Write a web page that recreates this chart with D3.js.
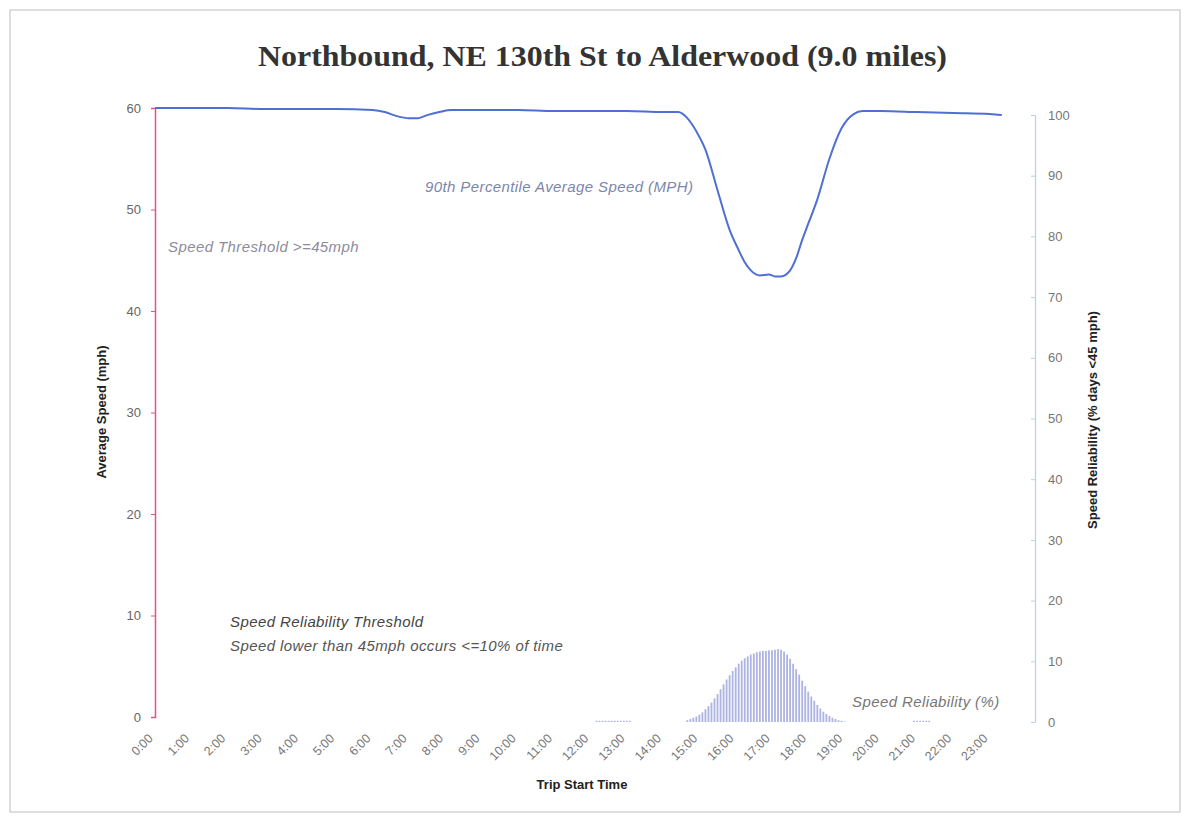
<!DOCTYPE html>
<html>
<head>
<meta charset="utf-8">
<script src="https://cdn.jsdelivr.net/npm/d3@7"></script>
<style>
  body { margin: 0; background: #fff; }
  text { font-family: Arial, "Liberation Sans", sans-serif; }
</style>
</head>
<body>
<div id="chart"></div>
<script>
// 90th percentile average speed (mph) by trip start time
var speedTimes = ["0:00","1:00","2:00","3:00","4:00","5:00","6:00","6:20","6:40","7:00","7:15","7:30","7:50","8:10",
  "9:00","10:00","11:00","12:00","13:00","14:00","14:25","14:40","14:55","15:10","15:30","15:50","16:05","16:15",
  "16:25","16:40","16:55","17:05","17:15","17:30","17:40","17:50","18:00","18:15","18:35","18:55","19:15","19:30",
  "20:00","21:00","22:00","23:00","23:20"];
var speedValues = [60.0,60.0,60.0,59.9,59.9,59.9,59.8,59.6,59.2,59.0,59.0,59.3,59.6,59.8,
  59.8,59.8,59.7,59.7,59.7,59.6,59.6,59.0,57.7,55.9,51.9,48.0,46.0,44.8,
  44.0,43.5,43.6,43.4,43.4,44.0,45.2,47.0,48.6,51.0,55.0,58.0,59.4,59.7,
  59.7,59.6,59.5,59.4,59.3];

// speed reliability (% of days below 45 mph), 5-minute bins
var relTimes = ["12:10","12:15","12:20","12:25","12:30","12:35","12:40","12:45","12:50","12:55","13:00","13:05",
  "14:40","14:45","14:50","14:55","15:00","15:05","15:10","15:15","15:20","15:25","15:30","15:35","15:40","15:45",
  "15:50","15:55","16:00","16:05","16:10","16:15","16:20","16:25","16:30","16:35","16:40","16:45","16:50","16:55",
  "17:00","17:05","17:10","17:15","17:20","17:25","17:30","17:35","17:40","17:45","17:50","17:55","18:00","18:05",
  "18:10","18:15","18:20","18:25","18:30","18:35","18:40","18:45","18:50","18:55","19:00",
  "20:55","21:00","21:05","21:10","21:15","21:20"];
var relValues = [0.2,0.2,0.2,0.2,0.2,0.2,0.2,0.2,0.2,0.2,0.2,0.2,
  0.3,0.5,0.7,0.9,1.2,1.6,2.1,2.6,3.2,3.9,4.6,5.4,6.2,7.0,
  7.7,8.4,9.0,9.6,10.1,10.5,10.8,11.1,11.3,11.5,11.6,11.7,11.7,11.8,
  11.8,11.9,12.0,11.9,11.6,11.1,10.4,9.6,8.7,7.8,6.8,5.9,5.0,4.2,
  3.5,2.8,2.2,1.7,1.3,1.0,0.7,0.5,0.3,0.2,0.1,
  0.2,0.2,0.2,0.2,0.2,0.2];

var hourLabels = d3.range(0, 24).map(h => h + ":00");
var leftTicks = [0, 10, 20, 30, 40, 50, 60];
var rightTicks = [0, 10, 20, 30, 40, 50, 60, 70, 80, 90, 100];

function toHours(s) {
  var p = s.split(":");
  return +p[0] + (+p[1]) / 60;
}

var svgWidth = 1191;
var svgHeight = 817;

var svg = d3.select("#chart")
  .append("svg")
  .attr("width", svgWidth)
  .attr("height", svgHeight);

// outer frame
svg.append("rect")
  .attr("x", 10).attr("y", 10)
  .attr("width", 1170).attr("height", 802)
  .attr("fill", "none")
  .attr("stroke", "#bdbdbd")
  .attr("stroke-width", 1);

var xScale = d3.scaleLinear().domain([0, 24]).range([155, 1026]);
var ySpeed = d3.scaleLinear().domain([0, 60]).range([717, 108]);
var yRel = d3.scaleLinear().domain([0, 100]).range([722, 115]);

// title
svg.append("text")
  .attr("x", 258).attr("y", 66)
  .attr("textLength", 689)
  .attr("lengthAdjust", "spacingAndGlyphs")
  .style("font-family", "'Liberation Serif', 'Times New Roman', serif")
  .style("font-weight", "bold")
  .style("font-size", "29px")
  .attr("fill", "#333")
  .text("Northbound, NE 130th St to Alderwood (9.0 miles)");

// reliability bars
var step = xScale(5 / 60) - xScale(0);
svg.append("g").selectAll("rect")
  .data(relTimes.map((t, i) => ({ t: toHours(t), v: relValues[i] })))
  .enter()
  .append("rect")
  .attr("x", d => xScale(d.t) - step / 2 + 0.6)
  .attr("width", step - 1.2)
  .attr("y", d => yRel(d.v))
  .attr("height", d => yRel(0) - yRel(d.v))
  .attr("fill", "#8a94d4")
  .attr("opacity", 0.7);

// left axis (speed)
var leftAxis = d3.axisLeft(ySpeed).tickValues(leftTicks).tickSize(4).tickPadding(10);
var gl = svg.append("g").attr("transform", "translate(155,0)").call(leftAxis);
gl.select(".domain").attr("stroke", "#e8508a").attr("stroke-width", 1.5);
gl.selectAll(".tick line").attr("stroke", "#e8508a");
gl.selectAll(".tick text").attr("fill", "#666").style("font-size", "13px");

// right axis (reliability)
var rightAxis = d3.axisRight(yRel).tickValues(rightTicks).tickSize(0).tickPadding(13);
var gr = svg.append("g").attr("transform", "translate(1035,0)").call(rightAxis);
gr.select(".domain").attr("stroke", "#b9cfe6").attr("stroke-width", 1.2);
gr.selectAll(".tick line").attr("stroke", "#b9cfe6");
gr.selectAll(".tick").append("line")
  .attr("x1", -4).attr("x2", 0)
  .attr("stroke", "#b9cfe6");
gr.selectAll(".tick text").attr("fill", "#777").style("font-size", "13px");

// x axis labels (no axis line)
var bottomAxis = d3.axisBottom(xScale)
  .tickValues(d3.range(0, 24))
  .tickFormat(h => hourLabels[h])
  .tickSize(0);
var gx = svg.append("g").attr("transform", "translate(-7,731)").call(bottomAxis);
gx.select(".domain").remove();
gx.selectAll(".tick text")
  .attr("text-anchor", "end")
  .attr("x", -2)
  .attr("y", 0)
  .attr("dy", "0.75em")
  .attr("transform", "rotate(-45)")
  .attr("fill", "#777")
  .style("font-size", "12.5px");

// speed line
var line = d3.line()
  .x(d => xScale(d.t))
  .y(d => ySpeed(d.v))
  .curve(d3.curveMonotoneX);
svg.append("path")
  .datum(speedTimes.map((t, i) => ({ t: toHours(t), v: speedValues[i] })))
  .attr("d", line)
  .attr("fill", "none")
  .attr("stroke", "#4f6fd2")
  .attr("stroke-width", 2);

// axis titles
svg.append("text")
  .attr("transform", "translate(106,412) rotate(-90)")
  .attr("text-anchor", "middle")
  .style("font-weight", "bold")
  .style("font-size", "13px")
  .attr("fill", "#222")
  .text("Average Speed (mph)");

svg.append("text")
  .attr("transform", "translate(1097,420) rotate(-90)")
  .attr("text-anchor", "middle")
  .style("font-weight", "bold")
  .style("font-size", "13px")
  .attr("fill", "#222")
  .text("Speed Reliability (% days <45 mph)");

svg.append("text")
  .attr("x", 582).attr("y", 789)
  .attr("text-anchor", "middle")
  .style("font-weight", "bold")
  .style("font-size", "13px")
  .attr("fill", "#222")
  .text("Trip Start Time");

// annotations
function note(x, y, s, color) {
  svg.append("text")
    .attr("x", x).attr("y", y)
    .style("font-style", "italic")
    .style("font-size", "15px")
    .style("letter-spacing", "0.4px")
    .attr("fill", color)
    .text(s);
}
note(425, 192, "90th Percentile  Average Speed (MPH)", "#7c86ab");
note(168, 252, "Speed Threshold  >=45mph", "#8c8c9c");
note(230, 627, "Speed Reliability Threshold", "#444");
note(230, 651, "Speed lower than 45mph occurs <=10% of time", "#555");
note(852, 707, "Speed Reliability  (%)", "#777");
</script>
</body>
</html>
